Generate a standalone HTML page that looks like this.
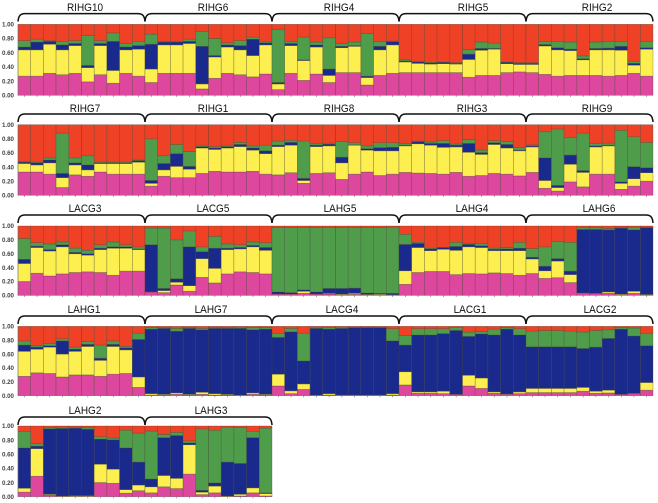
<!DOCTYPE html>
<html lang="en">
<head>
<meta charset="utf-8">
<title>Ancestry proportion bars</title>
<style>
html,body{margin:0;padding:0;background:#fff;width:658px;height:503px;overflow:hidden}
svg{display:block}
text{font-family:"Liberation Sans",sans-serif}
.bars{filter:blur(0.35px)}
</style>
</head>
<body>
<svg id="chart" xmlns="http://www.w3.org/2000/svg" width="658" height="503" viewBox="0 0 658 503"></svg>
<script>
const seriesNames = ['pink', 'yellow', 'blue', 'green', 'red'];
const tickLabels = ['0.00', '0.20', '0.40', '0.60', '0.80', '1.00'];
const tickValues = [0, 0.2, 0.4, 0.6, 0.8, 1];

const row1Groups = ['RIHG10', 'RIHG6', 'RIHG4', 'RIHG5', 'RIHG2'];
const row1Pink = [.27,.27,.31,.29,.31,.19,.29,.17,.31,.27, .18,.31,.31,.31,.09,.24,.31,.29,.26,.30, .08,.31,.21,.30,.18,.32,.32,.145,.28,.31, .32,.32,.32,.32,.32,.255,.28,.28,.32,.33, .32,.295,.27,.28,.28,.28,.27,.28,.31,.27];
const row1Yellow = [.64,.64,.72,.64,.70,.39,.70,.35,.64,.65, .37,.71,.71,.73,.16,.54,.68,.64,.56,.71, .16,.70,.49,.68,.28,.67,.69,.25,.64,.71, .47,.45,.44,.445,.44,.505,.635,.65,.445,.435, .435,.695,.64,.63,.50,.64,.64,.635,.425,.65];
const row1Blue = [.68,.75,.76,.71,.73,.42,.73,.76,.68,.70, .72,.75,.75,.76,.69,.56,.71,.70,.79,.74, .18,.73,.50,.71,.37,.69,.70,.27,.69,.755, .485,.47,.455,.465,.45,.58,.66,.66,.465,.45, .45,.715,.67,.65,.515,.66,.665,.69,.45,.67];
const row1Green = [.77,.79,.77,.76,.77,.84,.77,.88,.73,.76, .86,.76,.76,.79,.90,.80,.74,.77,.82,.76, .93,.76,.82,.75,.81,.73,.75,.87,.755,.765, .505,.48,.465,.47,.46,.645,.75,.735,.47,.46, .46,.76,.76,.75,.555,.75,.76,.76,.48,.76];

const row2Groups = ['RIHG7', 'RIHG1', 'RIHG8', 'RIHG3', 'RIHG9'];
const row2Pink = [.33,.33,.30,.11,.29,.27,.33,.30,.30,.30, .13,.27,.25,.25,.31,.34,.33,.33,.34,.30, .29,.32,.17,.31,.32,.225,.30,.33,.28,.30, .325,.315,.31,.30,.325,.27,.28,.31,.30,.275, .325,.10,.06,.19,.12,.30,.30,.085,.13,.20];
const row2Yellow = [.45,.43,.46,.25,.43,.36,.45,.45,.45,.47, .17,.36,.41,.37,.67,.65,.67,.69,.64,.59, .69,.71,.21,.69,.70,.46,.71,.64,.63,.63, .70,.73,.71,.68,.685,.61,.58,.72,.67,.63, .685,.21,.11,.44,.325,.685,.70,.17,.235,.32];
const row2Blue = [.47,.46,.50,.31,.46,.43,.46,.46,.46,.49, .21,.45,.59,.41,.69,.67,.69,.72,.67,.63, .71,.75,.24,.71,.725,.54,.715,.66,.675,.68, .71,.76,.735,.735,.71,.735,.605,.745,.72,.64, .70,.53,.14,.57,.35,.70,.71,.19,.405,.39];
const row2Green = [.48,.47,.53,.88,.53,.56,.47,.47,.47,.50, .80,.56,.72,.62,.71,.69,.71,.75,.70,.71, .77,.78,.77,.73,.74,.76,.745,.70,.745,.745, .735,.77,.755,.775,.725,.79,.64,.775,.76,.675, .715,.90,.94,.82,.88,.735,.74,.92,.83,.75];

const row3Groups = ['LACG3', 'LACG5', 'LAHG5', 'LAHG4', 'LAHG6'];
const row3Pink = [.20,.32,.28,.31,.33,.34,.33,.29,.35,.35, .05,.04,.15,.06,.26,.18,.31,.34,.33,.31, .02,.02,.03,.02,.02,.01,.015,.01,.01,.005, .16,.33,.345,.345,.30,.315,.31,.325,.315,.29, .315,.245,.255,.185,.03,.025,.03,.01,.03,.01];
const row3Yellow = [.46,.69,.64,.70,.60,.58,.66,.68,.68,.66, .05,.07,.19,.14,.53,.39,.66,.67,.70,.65, .02,.02,.06,.02,.03,.02,.03,.015,.02,.01, .355,.69,.645,.665,.65,.70,.69,.645,.645,.645, .525,.355,.495,.30,.035,.03,.05,.02,.06,.015];
const row3Blue = [.52,.71,.66,.73,.62,.60,.68,.70,.70,.67, .73,.10,.24,.70,.63,.68,.68,.69,.72,.69, .05,.04,.08,.05,.10,.10,.105,.035,.03,.03, .735,.75,.67,.69,.705,.735,.715,.665,.67,.68, .55,.42,.53,.35,.95,.95,.945,.97,.945,.975];
const row3Green = [.82,.76,.74,.77,.68,.65,.73,.77,.73,.70, .97,.97,.80,.93,.70,.85,.74,.73,.77,.76, .98,.98,.98,.98,.98,.98,.98,.98,.98,.985, .88,.765,.68,.69,.765,.745,.745,.68,.69,.765, .675,.70,.775,.765,.98,.975,.965,.985,.985,.985];

const row4Groups = ['LAHG1', 'LAHG7', 'LACG4', 'LACG1', 'LACG2'];
const row4Pink = [.28,.33,.32,.27,.30,.30,.28,.31,.32,.12, .01,.01,.02,.01,.02,.01,.01,.005,.02,.01, .14,.03,.09,.01,.01,.005,.005,.005,.005,.01, .155,.035,.035,.03,.02,.14,.105,.035,.02,.03, .045,.045,.045,.045,.065,.035,.04,.02,.03,.08];
const row4Yellow = [.64,.67,.70,.60,.64,.71,.51,.71,.66,.27, .03,.02,.04,.02,.05,.03,.02,.01,.04,.02, .31,.07,.17,.01,.03,.01,.01,.01,.01,.03, .345,.055,.055,.065,.02,.295,.255,.055,.025,.055, .105,.105,.105,.105,.12,.065,.08,.02,.035,.19];
const row4Blue = [.73,.70,.72,.79,.67,.74,.54,.74,.69,.81, .96,.97,.93,.97,.95,.97,.97,.97,.95,.96, .84,.92,.50,.97,.96,.97,.98,.98,.98,.79, .73,.875,.875,.895,.94,.855,.89,.875,.96,.875, .705,.705,.705,.705,.68,.70,.825,.96,.86,.72];
const row4Green = [.79,.72,.75,.82,.70,.78,.73,.79,.71,.90, .98,.98,.97,.98,.97,.98,.98,.99,.98,.98, .90,.97,.90,.99,.985,.99,.99,.99,.99,.965, .865,.965,.965,.965,.98,.915,.925,.96,.98,.965, .93,.94,.94,.93,.915,.94,.95,.98,.975,.90];

const row5Groups = ['LAHG2', 'LAHG3'];
const row5Pink = [.065,.29,.025,.005,.005,.005,.20,.19,.05,.085, .055,.14,.115,.32,.03,.055,.002,.01,.055,.01];
const row5Yellow = [.12,.68,.035,.01,.015,.015,.46,.39,.10,.165, .14,.30,.26,.735,.065,.15,.01,.035,.125,.045];
const row5Blue = [.69,.715,.96,.965,.97,.955,.815,.805,.69,.49, .25,.835,.865,.76,.09,.195,.49,.47,.835,.055];
const row5Green = [.925,.75,.975,.985,.985,.98,.85,.83,.94,.90, .93,.88,.91,.79,.96,.94,.985,.98,.925,.97];

/* layout only */
const colors = {pink:'#dd479d', yellow:'#fcef4f', blue:'#1a2a8c', green:'#4f9d4b', red:'#ee4126'};
const rows = [
  {axisTop:24.3, axisBottom:95.3, braceY:13.6, braceEnd:21.5, labelY:10.8, centers:[85,213,339,473,597], groups:row1Groups, pink:row1Pink, yellow:row1Yellow, blue:row1Blue, green:row1Green},
  {axisTop:124.7, axisBottom:195.3, braceY:114, braceEnd:122, labelY:112, centers:[85,213,339,472,597], groups:row2Groups, pink:row2Pink, yellow:row2Yellow, blue:row2Blue, green:row2Green},
  {axisTop:226, axisBottom:295.4, braceY:215, braceEnd:223, labelY:212.2, centers:[85,213,340,472,599], groups:row3Groups, pink:row3Pink, yellow:row3Yellow, blue:row3Blue, green:row3Green},
  {axisTop:326.3, axisBottom:395.7, braceY:316, braceEnd:324, labelY:313, centers:[84,211,342,470,600], groups:row4Groups, pink:row4Pink, yellow:row4Yellow, blue:row4Blue, green:row4Green},
  {axisTop:426, axisBottom:496.7, braceY:417, braceEnd:425, labelY:414, centers:[85,211], groups:row5Groups, pink:row5Pink, yellow:row5Yellow, blue:row5Blue, green:row5Green}
];
const plotLeft = 18;
const barWidth = 12.7;
const barsPerGroup = 10;
const SVGNS = 'http://www.w3.org/2000/svg';
const svg = document.getElementById('chart');

function make(tag, attrs) {
  const el = document.createElementNS(SVGNS, tag);
  for (const k in attrs) el.setAttribute(k, attrs[k]);
  return el;
}

rows.forEach(function (row, rowIndex) {
  const rowG = make('g', {});
  
  
  svg.appendChild(rowG);

  const yScale = function (v) { return row.axisBottom - v * (row.axisBottom - row.axisTop); };
  const xScale = function (i) { return plotLeft + i * barWidth; };
  const count = row.pink.length;

  const barsG = make('g', {class: 'bars'});
  
  
  rowG.appendChild(barsG);

  for (let i = 0; i < count; i++) {
    const tops = [row.pink[i], row.yellow[i], row.blue[i], row.green[i], 1];
    let lower = 0;
    const barG = make('g', {});
    
    
    barsG.appendChild(barG);
    tops.forEach(function (upper, s) {
      const h = yScale(lower) - yScale(upper);
      if (h > 0) {
        const seg = make('rect', {x: xScale(i), y: yScale(upper), width: barWidth, height: h, fill: colors[seriesNames[s]], stroke: 'rgba(70,70,50,0.5)', 'stroke-width': 0.6});
        
        
        barG.appendChild(seg);
      }
      lower = upper;
    });
    const tick = make('line', {x1: xScale(i) + barWidth / 2, x2: xScale(i) + barWidth / 2, y1: row.axisBottom, y2: row.axisBottom + 1.6, stroke: '#666', 'stroke-width': 0.6});
    
    
    rowG.appendChild(tick);
  }

  const axis = make('line', {x1: plotLeft, x2: plotLeft, y1: row.axisTop, y2: row.axisBottom, stroke: '#777', 'stroke-width': 0.6});
  
  
  rowG.appendChild(axis);

  tickValues.forEach(function (v, t) {
    const lab = make('text', {x: 14, y: yScale(v) + 2.2, 'text-anchor': 'end', 'font-size': 6.2, 'font-weight': 'bold', fill: '#444'});
    
    
    lab.textContent = tickLabels[t];
    rowG.appendChild(lab);
  });

  row.groups.forEach(function (name, g) {
    const x0 = xScale(g * barsPerGroup);
    const x1 = xScale((g + 1) * barsPerGroup);
    const by = row.braceY;
    const be = row.braceEnd;
    const d = 'M' + x0 + ' ' + be + ' C' + (x0 + 0.5) + ' ' + (by + 2) + ' ' + (x0 + 2.5) + ' ' + by + ' ' + (x0 + 7) + ' ' + by +
      ' L' + (x1 - 7) + ' ' + by + ' C' + (x1 - 2.5) + ' ' + by + ' ' + (x1 - 0.5) + ' ' + (by + 2) + ' ' + x1 + ' ' + be;
    const brace = make('path', {d: d, fill: 'none', stroke: '#111', 'stroke-width': 1.5, 'stroke-linejoin': 'miter'});
    
    
    rowG.appendChild(brace);

    const label = make('text', {transform: 'translate(' + row.centers[g] + ' ' + row.labelY + ') scale(0.87 1)', 'text-anchor': 'middle', 'font-size': 11.5, fill: '#111'});
    
    
    label.textContent = name;
    rowG.appendChild(label);
  });
});
</script>
</body>
</html>
